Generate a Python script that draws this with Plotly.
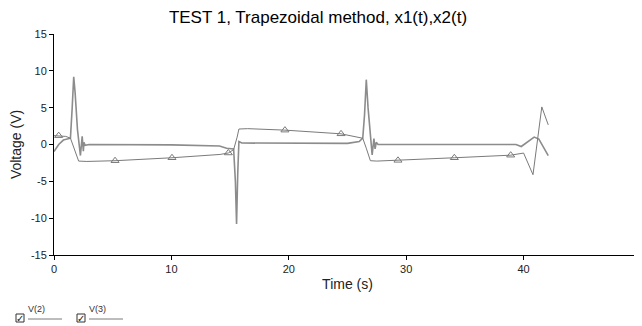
import plotly.graph_objects as go

# ---- data ----
x1_t = [0, 0.4, 1.0, 1.4, 1.8, 2.1, 2.8, 5.2, 10.05, 14.15, 14.85, 15.3, 15.6, 15.75, 16.5,
        19.67, 24.45, 26.3, 26.6, 26.95, 27.5, 29.3, 31.1, 34.1, 38.9, 40.0, 40.8, 41.55, 42.1]
x1_v = [1.2, 1.2, 1.1, 0.86, -1.0, -2.25, -2.3, -2.2, -1.8, -1.35, -1.15, -0.7, 1.0, 2.1, 2.15,
        1.95, 1.45, 0.85, -0.5, -2.2, -2.25, -2.15, -2.05, -1.8, -1.45, -1.16, -4.1, 5.1, 2.66]
x1_marker_t = [0.4, 5.2, 10.05, 14.85, 19.67, 24.45, 29.3, 34.1, 38.9]

x2_t = [0, 0.4, 0.8, 1.4, 1.55, 1.68, 1.8, 2.0, 2.25, 2.4, 2.5, 2.55, 2.65, 3.0, 10, 14.1,
        14.7, 15.3, 15.45, 15.55, 15.65, 15.75, 16.0, 20, 25, 26.0, 26.3, 26.45, 26.6, 26.75,
        27.1, 27.25, 27.35, 27.45, 27.6, 30, 39.35, 39.8, 40.9, 41.3, 42.1]
x2_v = [-0.95, 0.0, 0.6, 0.86, 5.0, 9.2, 7.0, 2.0, -1.5, 1.1, -0.9, 0.3, -0.1, 0.0, -0.05, -0.2,
        -0.5, -0.6, -5.0, -10.8, -4.0, 0.4, 0.2, 0.15, 0.15, 0.4, 0.86, 4.0, 8.8, 5.0,
        -1.4, 0.8, -0.6, 0.3, 0.0, 0.0, 0.0, -0.27, 1.0, 0.73, -1.5]

series_names = ["V(2)", "V(3)"]
x_tickvals = [0, 10, 20, 30, 40, 50]
x_ticktext = ["0", "10", "20", "30", "40", "50"]
y_tickvals = [-15, -10, -5, 0, 5, 10, 15]
y_ticktext = ["-15", "-10", "-5", "0", "5", "10", "15"]

marker_v = [x1_v[x1_t.index(t)] for t in x1_marker_t]

# The page body has an 8px default margin; the figure is sized to fit inside the window.
W, H = 634, 318
L, T, PW, PH = 46, 26, 587, 221

fig = go.Figure()
fig.add_trace(go.Scatter(x=x2_t, y=x2_v, mode="lines", name=series_names[1],
                         line=dict(color="#8c8c8c", width=1.6), showlegend=False))
fig.add_trace(go.Scatter(x=x1_t, y=x1_v, mode="lines", name=series_names[0],
                         line=dict(color="#7a7a7a", width=1), showlegend=False))
fig.add_trace(go.Scatter(x=x1_marker_t, y=marker_v, mode="markers", name=series_names[0],
                         marker=dict(symbol="triangle-up-open", size=7, color="#7a7a7a",
                                     line=dict(width=1)), showlegend=False))

fig.update_layout(
    width=W, height=H,
    margin=dict(l=L, r=W - L - PW, t=T, b=H - T - PH, autoexpand=False),
    paper_bgcolor="white", plot_bgcolor="white",
    font=dict(family="Arial, Liberation Sans, sans-serif", color="#222222", size=11),
    title=dict(text="TEST 1, Trapezoidal method, x1(t),x2(t)", x=310 / W, xanchor="center",
               y=1 - 3 / H, yanchor="top", font=dict(size=17, color="black")),
    xaxis=dict(range=[0, 50], tickvals=x_tickvals, ticktext=x_ticktext, showgrid=False,
               zeroline=False, showline=True, linecolor="black", linewidth=1,
               ticks="outside", ticklen=4, tickcolor="black", automargin=False,
               title=dict(text="Time (s)", font=dict(size=14), standoff=4)),
    yaxis=dict(range=[-15, 15], tickvals=y_tickvals, ticktext=y_ticktext, showgrid=False,
               zeroline=False, showline=True, linecolor="black", linewidth=1,
               ticks="outside", ticklen=4, tickcolor="black", automargin=False,
               title=dict(text="Voltage (V)", font=dict(size=14), standoff=10)),
)


def px_x(x):
    return (x - 54) / PW


def px_y(y):
    return -(y - 255) / PH


# legend imitation (checkbox + name + line sample); positions in reference pixels
legend_items = [(20, series_names[0]), (81, series_names[1])]
for xpx, name in legend_items:
    fig.add_shape(type="rect", xref="paper", yref="paper",
                  x0=px_x(xpx - 4), x1=px_x(xpx + 4), y0=px_y(322), y1=px_y(314),
                  line=dict(color="#333", width=1), fillcolor="white")
    fig.add_annotation(xref="paper", yref="paper", x=px_x(xpx), y=px_y(318),
                       text="✓", showarrow=False, font=dict(size=10, color="#222"),
                       xanchor="center", yanchor="middle")
    fig.add_annotation(xref="paper", yref="paper", x=px_x(xpx + 6), y=px_y(309),
                       text=name, showarrow=False, font=dict(size=9, color="#333"),
                       xanchor="left", yanchor="middle")
    fig.add_shape(type="line", xref="paper", yref="paper",
                  x0=px_x(xpx + 8), x1=px_x(xpx + 42), y0=px_y(319), y1=px_y(319),
                  line=dict(color="#7a7a7a", width=1))

fig.write_html("out.html")
